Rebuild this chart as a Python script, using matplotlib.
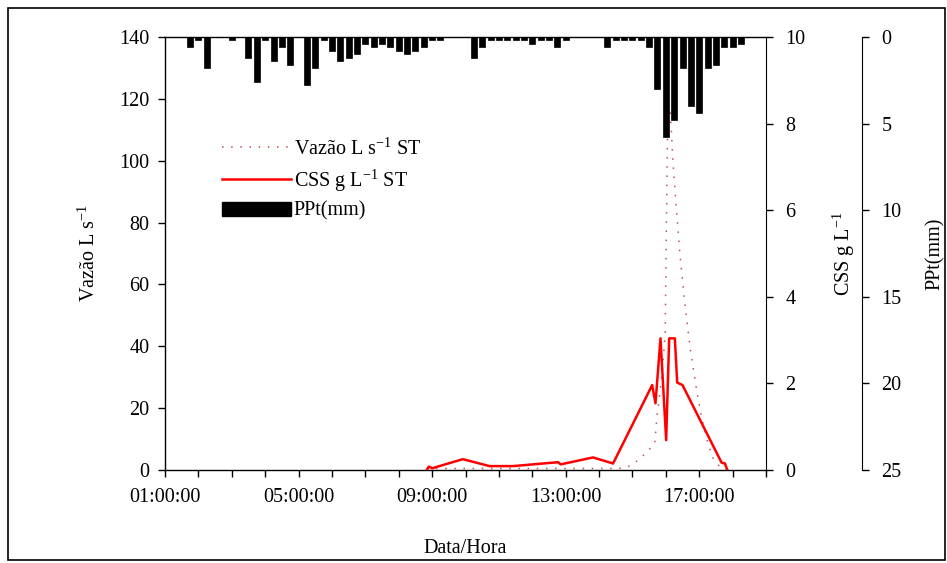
import matplotlib
matplotlib.use("Agg")
import matplotlib.pyplot as plt
from matplotlib.patches import Rectangle, Patch
from matplotlib.lines import Line2D
import matplotlib.ticker as mticker

plt.rcParams['font.family'] = ['Liberation Serif', 'DejaVu Serif']
plt.rcParams['mathtext.fontset'] = 'custom'
plt.rcParams['mathtext.rm'] = 'Liberation Serif'
plt.rcParams['mathtext.it'] = 'Liberation Serif:italic'

# ---- data (time in hours) ----
ppt_time = [1.75, 2.0, 2.25, 3.0, 3.5, 3.75, 4.0, 4.25, 4.5, 4.75, 5.25, 5.5, 5.75,
            6.0, 6.25, 6.5, 6.75, 7.0, 7.25, 7.5, 7.75, 8.0, 8.25, 8.5, 8.75, 9.0,
            9.25, 10.25, 10.5, 10.75, 11.0, 11.25, 11.5, 11.75, 12.0, 12.25, 12.5,
            12.75, 13.0, 14.25, 14.5, 14.75, 15.0, 15.25, 15.5, 15.75, 16.0, 16.25,
            16.5, 16.75, 17.0, 17.25, 17.5, 17.75, 18.0, 18.25]
ppt_mm = [0.6, 0.2, 1.8, 0.2, 1.2, 2.6, 0.2, 1.4, 0.6, 1.6, 2.8, 1.8, 0.2,
          0.8, 1.4, 1.2, 1.0, 0.4, 0.6, 0.4, 0.6, 0.8, 1.0, 0.8, 0.6, 0.2,
          0.2, 1.2, 0.6, 0.2, 0.2, 0.2, 0.2, 0.2, 0.4, 0.2, 0.2,
          0.6, 0.2, 0.6, 0.2, 0.2, 0.2, 0.2, 0.6, 3.0, 5.8, 4.8,
          1.8, 4.0, 4.4, 1.8, 1.6, 0.6, 0.6, 0.4]

css_time = [8.84, 8.9, 9.0, 9.92, 10.72, 11.42, 12.77, 12.85, 13.82, 14.42,
            15.59, 15.69, 15.84, 16.01, 16.10, 16.27, 16.34, 16.5, 17.67, 17.77, 17.84]
css_gl = [0.0, 0.08, 0.04, 0.25, 0.09, 0.09, 0.18, 0.13, 0.29, 0.15,
          1.96, 1.54, 3.04, 0.69, 3.04, 3.04, 2.02, 1.96, 0.17, 0.15, 0.0]

vaz_time = [8.84, 10.0, 12.0, 14.0, 14.5, 14.74, 14.98, 15.25, 15.49, 15.67, 15.73,
            15.88, 15.98, 16.05, 16.12, 16.17, 16.21, 16.32, 16.42, 16.57, 16.72,
            16.92, 17.07, 17.26, 17.41, 17.62, 17.83]
vaz_ls = [0.5, 0.5, 0.5, 0.5, 0.5, 0.6, 1.6, 3.9, 6.5, 8.7, 17,
          30, 44, 110, 117, 109, 100, 84, 70, 54, 40,
          26, 17, 8.7, 3.9, 1.0, 0.0]

xtick_pos = [1, 5, 9, 13, 17]
xtick_labels = ['01:00:00', '05:00:00', '09:00:00', '13:00:00', '17:00:00']

FS = 14.5
VCOL = '#b85555'
fig = plt.figure(figsize=(9.47, 5.63), dpi=100)
L, R, B, T = 165/947, 766/947, 1-470/563, 1-37/563
ax = fig.add_axes([L, B, R-L, T-B])
ax2 = ax.twinx()
ax3 = ax.twinx()

# Vazao (left)
ax.plot(vaz_time, vaz_ls, color=VCOL, lw=1.1, ls=(0, (1, 5)))
ax.set_xlim(1, 19)
ax.set_ylim(0, 140)
ax.set_yticks(range(0, 141, 20))
ax.xaxis.set_major_locator(mticker.FixedLocator(xtick_pos))
ax.set_xticklabels(xtick_labels)
ax.xaxis.set_minor_locator(mticker.MultipleLocator(1))
ax.tick_params(axis='x', which='both', direction='out', length=5, width=1, labelsize=FS, pad=8)
ax.tick_params(axis='y', direction='out', length=5, width=1, labelsize=FS, pad=6)
ax.set_xlabel('Data/Hora', fontsize=FS, labelpad=23)
ax.set_ylabel('Vazão L s$^{-1}$', fontsize=FS)
ax.yaxis.set_label_coords(-0.108, 0.5)
for s in ['top', 'left', 'bottom']:
    ax.spines[s].set_linewidth(1.0)
ax.spines['right'].set_visible(False)

# CSS (right)
ax2.plot(css_time, css_gl, color='#ff0000', lw=1.8)
ax2.set_ylim(0, 10)
ax2.set_yticks(range(0, 11, 2))
ax2.tick_params(axis='y', direction='out', length=5, width=1, labelsize=FS, pad=9)
ax2.set_ylabel('CSS g L$^{-1}$', fontsize=FS)
ax2.yaxis.set_label_coords(1.108, 0.5)
for s in ['top', 'left', 'bottom']:
    ax2.spines[s].set_visible(False)

# PPt (far right, inverted)
ax3.bar(ppt_time, ppt_mm, width=0.18, color='black', edgecolor='black', lw=0.5)
ax3.set_ylim(25, 0)
ax3.set_yticks(range(0, 26, 5))
ax3.spines['right'].set_position(('axes', 1 + 96/601))
for s in ['top', 'left', 'bottom']:
    ax3.spines[s].set_visible(False)
ax3.tick_params(axis='y', direction='out', length=5, width=1, labelsize=FS, pad=9)
ax3.set_ylabel('PPt(mm)', fontsize=FS)
ax3.yaxis.set_label_coords(1.265, 0.5)

# legend
handles = [Line2D([], [], color=VCOL, lw=1.1, ls=(0, (1, 5))),
           Line2D([], [], color='#ff0000', lw=1.8),
           Patch(facecolor='black', edgecolor='black')]
labels = ['Vazão L s$^{-1}$ ST', 'CSS g L$^{-1}$ ST', 'PPt(mm)']
ax.legend(handles, labels, loc='upper left', bbox_to_anchor=(0.082, 0.785), frameon=False,
          fontsize=FS, handlelength=3.4, handleheight=0.7, handletextpad=0.15,
          labelspacing=0.4, borderaxespad=0)

# outer border
fig.patches.append(Rectangle((8/947, 3/563), 937/947, 552/563, transform=fig.transFigure,
                             fill=False, edgecolor='black', lw=1.2))

fig.savefig('out.png', dpi=100)
